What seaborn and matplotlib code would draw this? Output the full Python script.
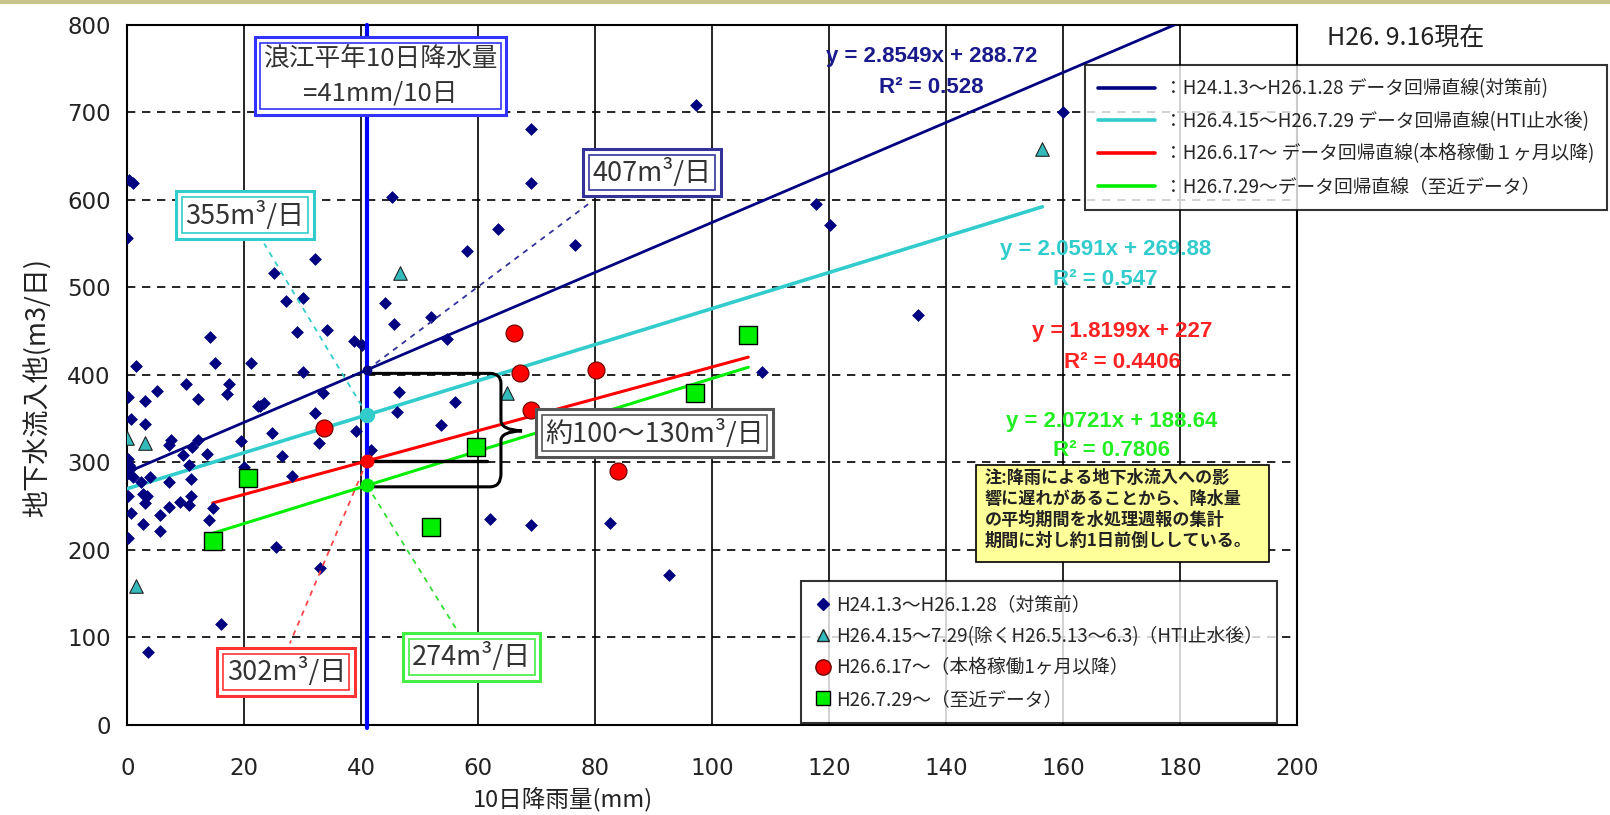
import numpy as np
import pandas as pd
import matplotlib
matplotlib.use("Agg")
import matplotlib.pyplot as plt
import seaborn as sns
from matplotlib.lines import Line2D
from matplotlib.path import Path
from matplotlib.patches import PathPatch, Rectangle

# ---------------- data ----------------
pre_x = [0.2, 0.9, 0.0, 14.1, 1.5, 15.0, 21.1, 10.0, 17.4, 5.0, 0.1, 17.1, 3.0, 12.1, 22.3,
         0.6, 3.0, 7.5, 7.1, 12.0, 11.1, 19.4, 9.6, 13.6, 0.1, 0.2, 0.6, 0.0, 0.9, 2.4, 3.9,
         10.5, 7.1, 10.9, 20.0, 0.1, 2.6, 3.3, 3.0, 10.9, 9.0, 7.1, 10.5, 0.6, 5.6, 14.6,
         14.0, 2.6, 5.6, 0.1, 16.0, 3.5,
         45.2, 32.1, 25.1, 27.1, 30.1, 44.1, 45.6, 29.1, 34.1, 38.8, 40.2, 30.1, 33.5, 46.5,
         23.4, 22.7, 32.1, 46.1,
         24.7, 32.7, 39.1, 26.5, 41.6, 28.1, 25.5, 32.9,
         69.1, 69.1, 63.4, 58.1, 76.6, 52.0, 54.6, 56.1, 53.6, 62.0, 69.1, 82.5,
         97.2, 117.7, 120.1, 135.2, 108.5, 92.6, 160.0]
pre_y = [623, 619, 557, 443, 410, 414, 414, 390, 389, 381, 375, 378, 370, 372, 364,
         349, 344, 326, 320, 326, 318, 324, 308, 310, 304, 297, 293, 287, 283, 278, 283,
         297, 278, 281, 295, 262, 264, 261, 253, 262, 255, 249, 251, 242, 240, 248,
         234, 229, 221, 214, 115, 83,
         603, 532, 516, 484, 488, 482, 458, 449, 451, 439, 434, 403, 379, 380,
         368, 364, 356, 358,
         333, 322, 336, 307, 314, 284, 203, 179,
         681, 619, 567, 542, 549, 466, 441, 369, 343, 235, 228, 231,
         708, 595, 571, 468, 403, 171, 701]

hti_x = [0.0, 3.0, 1.5, 46.6, 65.0, 156.5]
hti_y = [328, 322, 159, 517, 379, 658]

full_x = [33.6, 66.2, 67.1, 69.1, 80.2, 84.0]
full_y = [339, 448, 402, 360, 406, 290]

recent_x = [14.6, 20.6, 51.9, 59.6, 97.1, 106.2]
recent_y = [210, 282, 226, 317, 379, 445]

fit_slope = [2.8549, 2.0591, 1.8199, 2.0721]
fit_icpt = [288.72, 269.88, 227, 188.64]
fit_r2 = ["0.528", "0.547", "0.4406", "0.7806"]
fit_icpt_txt = ["288.72", "269.88", "227", "188.64"]

normal_rain = 41  # mm / 10 days
box_values = [407, 355, 302, 274]   # m3/day labels as printed

line_labels = ["：H24.1.3～H26.1.28 データ回帰直線(対策前)",
               "：H26.4.15～H26.7.29 データ回帰直線(HTI止水後)",
               "：H26.6.17～ データ回帰直線(本格稼働１ヶ月以降)",
               "：H26.7.29～データ回帰直線（至近データ）"]
point_labels = ["H24.1.3～H26.1.28（対策前）",
                "H26.4.15～7.29(除くH26.5.13～6.3)（HTI止水後）",
                "H26.6.17～（本格稼働1ヶ月以降）",
                "H26.7.29～（至近データ）"]
note_text = ("注:降雨による地下水流入への影\n響に遅れがあることから、降水量\n"
             "の平均期間を水処理週報の集計\n期間に対し約1日前倒ししている。")

x_ticks = list(range(0, 201, 20))
y_ticks = list(range(0, 801, 100))

# ---------------- style ----------------
sns.set_style("white")
plt.rcParams["font.family"] = ["Noto Sans CJK JP", "DejaVu Sans"]

NAVY = "#000080"
CYAN = "#33CCCC"
RED = "#FF0000"
GREEN = "#00EE00"
BLUE = "#0000FF"

fig = plt.figure(figsize=(16.1, 8.15), dpi=100)
ax = fig.add_axes([0.0791, 0.1107, 0.7263, 0.8587])
ax.set_xlim(0, 200)
ax.set_ylim(0, 800)

# grid
ax.set_xticks(x_ticks)
ax.set_yticks(y_ticks)
ax.xaxis.grid(True, color="black", lw=1.2, ls="-")
ax.yaxis.grid(True, color="black", lw=1.2, ls=(0, (5, 4)))
ax.set_axisbelow(True)
for sp in ax.spines.values():
    sp.set_color("black")
    sp.set_linewidth(1.5)
ax.tick_params(axis="both", length=0, labelsize=16.5, labelcolor="#222222")
ax.tick_params(axis="x", pad=23)
ax.tick_params(axis="y", pad=12)
for lab in ax.get_xticklabels() + ax.get_yticklabels():
    lab.set_fontfamily("DejaVu Sans")

# regression lines
fit_ranges = [(0, 200), (min(hti_x), max(hti_x)),
              (min(full_x + recent_x), max(full_x + recent_x)),
              (min(full_x + recent_x), max(full_x + recent_x))]
fit_colors = [NAVY, CYAN, RED, GREEN]
fit_lw = [2.0, 2.6, 2.2, 2.2]
for k in range(4):
    xs = np.array(fit_ranges[k])
    df = pd.DataFrame({"x": xs, "y": fit_slope[k] * xs + fit_icpt[k]})
    sns.lineplot(data=df, x="x", y="y", color=fit_colors[k], lw=fit_lw[k], ax=ax, zorder=4)

# vertical normal-rainfall line
ax.axvline(normal_rain, color=BLUE, lw=3, zorder=6, ymin=-0.005, clip_on=False)

# scatter
sns.scatterplot(x=pre_x, y=pre_y, marker="D", s=36, color=NAVY, edgecolor=NAVY,
                linewidth=0.5, ax=ax, zorder=5, legend=False)
sns.scatterplot(x=hti_x, y=hti_y, marker="^", s=95, color="#33BBBB", edgecolor="#222222",
                linewidth=0.8, ax=ax, zorder=5, legend=False)
sns.scatterplot(x=full_x, y=full_y, marker="o", s=150, color=RED, edgecolor="#660000",
                linewidth=0.8, ax=ax, zorder=5, legend=False)
sns.scatterplot(x=recent_x, y=recent_y, marker="s", s=150, color=GREEN, edgecolor="black",
                linewidth=1.0, ax=ax, zorder=5, legend=False)

# values at x = 41
vals41 = [fit_slope[k] * normal_rain + fit_icpt[k] for k in range(4)]
dot_colors = [NAVY, CYAN, RED, GREEN]
dot_ms = [6, 10, 9, 9]
for k in range(4):
    ax.plot([normal_rain], [vals41[k]], "o", ms=dot_ms[k], color=dot_colors[k], zorder=7)

# leader lines
leader_ends = [(79.4, 598), (23.4, 550), (27.8, 93), (56.4, 108)]
leader_cols = ["#333399", CYAN, "#FF4444", "#33DD33"]
for k in range(4):
    ax.plot([normal_rain, leader_ends[k][0]], [vals41[k], leader_ends[k][1]],
            ls=(0, (3, 3)), lw=1.3, color=leader_cols[k], zorder=6)

# brace
bx = 63.9
verts = [(normal_rain, 401.7), (62, 401.7), (bx, 401.7), (bx, 390), (bx, 348),
         (bx, 337), (67.5, 336), (bx, 335), (bx, 325), (bx, 287), (bx, 272), (62, 272),
         (normal_rain, 272)]
codes = [Path.MOVETO, Path.LINETO, Path.CURVE3, Path.CURVE3, Path.LINETO,
         Path.CURVE3, Path.CURVE3, Path.CURVE3, Path.CURVE3, Path.LINETO,
         Path.CURVE3, Path.CURVE3, Path.LINETO]
ax.add_patch(PathPatch(Path(verts, codes), fc="none", ec="black", lw=2.2, zorder=6))
ax.plot([normal_rain, 61.5], [vals41[2], vals41[2]], color="black", lw=2.4, zorder=6)


def dbox(x, y, s, color, fs, pad=0.12, gap=0.22, lw_out=2.2, lw_in=1.2, tc="#333333"):
    ax.text(x, y, s, fontsize=fs, color="none", ha="center", va="center", zorder=8,
            multialignment="center", linespacing=1.4,
            bbox=dict(boxstyle=f"square,pad={pad + gap}", fc="white", ec=color, lw=lw_out))
    ax.text(x, y, s, fontsize=fs, color=tc, ha="center", va="center", zorder=9,
            multialignment="center", linespacing=1.4,
            bbox=dict(boxstyle=f"square,pad={pad}", fc="white", ec=color, lw=lw_in))


dbox(43.3, 741.5, "浪江平年10日降水量\n=41mm/10日", "#3333FF", 18.5)
dbox(89.7, 631.5, f"{box_values[0]}m³/日", "#333399", 19.5)
dbox(20.1, 582.7, f"{box_values[1]}m³/日", CYAN, 19.5)
dbox(27.2, 60.4, f"{box_values[2]}m³/日", "#FF3333", 19.5)
dbox(58.9, 77.5, f"{box_values[3]}m³/日", "#44EE44", 19.5)
dbox(90.2, 333.5, "約100～130m³/日", "#555555", 19.5)

# equations
eq_pos = [(137.5, 764, 729), (167.3, 543, 509), (170.2, 449, 414), (168.4, 347, 314)]
eq_cols = ["#1A1A8C", "#33CCCC", "#FF2222", "#22EE22"]
for k in range(4):
    xx, y1, y2 = eq_pos[k]
    ax.text(xx, y1, f"y = {fit_slope[k]}x + {fit_icpt_txt[k]}", color=eq_cols[k],
            fontsize=16, fontweight="bold", family="Liberation Sans", ha="center",
            va="center", zorder=7)
    ax.text(xx, y2, f"R² = {fit_r2[k]}", color=eq_cols[k], fontsize=16,
            fontweight="bold", family="Liberation Sans", ha="center", va="center", zorder=7)

# note box
ax.add_patch(Rectangle((145.2, 186), 50, 111, fc="#FFFF99", ec="black", lw=1.2, zorder=8))
ax.text(146.6, 292, note_text, fontsize=12.3, fontweight="bold", color="#222222",
        ha="left", va="top", linespacing=1.2, zorder=9)

# labels
ax.set_xlabel("10日降雨量(mm)", fontsize=17, color="#222222", labelpad=5)
ax.xaxis.label.set_x(0.3726)
ax.set_ylabel("地下水流入他(m3/日)", fontsize=19.5, color="#222222", labelpad=11)
ax.yaxis.label.set_y(0.4826)

fig.text(0.8245, 0.952, "H26. 9.16現在", fontsize=18, color="#222222", ha="left", va="center")

# legends
lh = [Line2D([0], [0], color=c, lw=2.6) for c in fit_colors]
leg1 = ax.legend(lh, line_labels, loc="upper left", bbox_to_anchor=(0.674, 0.920),
                 bbox_transform=fig.transFigure, fontsize=13.5, frameon=True,
                 fancybox=False, edgecolor="black", handlelength=3.0, handletextpad=0.5,
                 labelspacing=0.62, borderpad=0.7, borderaxespad=0)
leg1.get_frame().set_linewidth(1.5)
leg1.set_zorder(10)
ax.add_artist(leg1)

ph = [Line2D([0], [0], marker="D", ls="none", ms=6, color=NAVY),
      Line2D([0], [0], marker="^", ls="none", ms=9, mfc="#33BBBB", mec="#222222"),
      Line2D([0], [0], marker="o", ls="none", ms=11, mfc=RED, mec="#660000"),
      Line2D([0], [0], marker="s", ls="none", ms=10, mfc=GREEN, mec="black")]
leg2 = ax.legend(ph, point_labels, loc="upper left", bbox_to_anchor=(0.4975, 0.287),
                 bbox_transform=fig.transFigure, fontsize=13.5, frameon=True,
                 fancybox=False, edgecolor="black", handlelength=0.9, handletextpad=0.3,
                 labelspacing=0.56, borderpad=0.7, borderaxespad=0)
leg2.get_frame().set_linewidth(1.5)
leg2.set_zorder(10)

# top khaki border line
fig.patches.append(Rectangle((0, 1 - 4 / 815), 1, 4 / 815, transform=fig.transFigure,
                             fc="#C8C48C", ec="none"))

fig.savefig("out.png", dpi=100)
